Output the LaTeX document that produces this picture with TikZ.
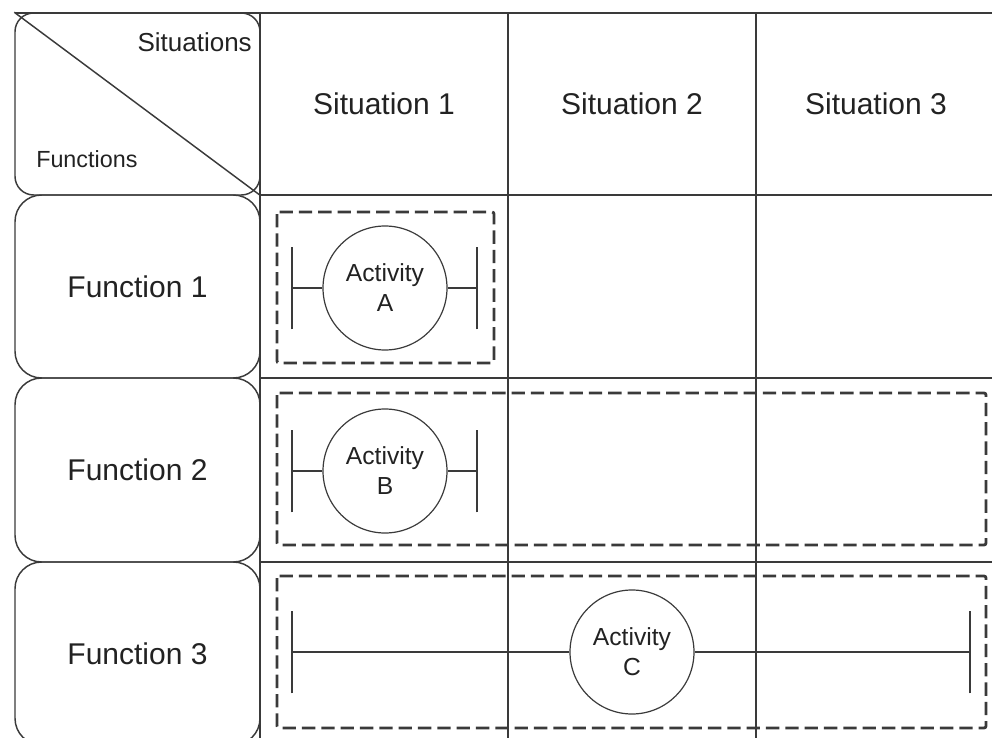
\documentclass[tikz,border=0pt]{standalone}
\usepackage{fontspec}
\setmainfont{Liberation Sans}
\definecolor{linegray}{HTML}{3A3A3A}
\definecolor{textgray}{HTML}{222222}
\begin{document}
\begin{tikzpicture}[x=0.75pt,y=-0.75pt,
  gridline/.style={draw=linegray, line width=1.1pt},
  rowbox/.style={draw=linegray, line width=1.1pt, rounded corners=20pt,
    minimum width=183.75pt, inner sep=0pt, text=textgray,
    font=\fontsize{22.5}{27}\selectfont},
  headtext/.style={text=textgray, inner sep=0pt, font=\fontsize{22.5}{27}\selectfont},
  cornertext/.style={text=textgray, inner sep=0pt},
  activity/.style={circle, draw=linegray, line width=0.9pt, minimum size=93pt,
    inner sep=0pt, align=center, text=textgray,
    font=\fontsize{18.5}{22.5}\selectfont},
  spanline/.style={draw=linegray, line width=0.9pt},
  dashbox/.style={draw=linegray, line width=2.1pt, dash pattern=on 10pt off 4.5pt,
    rounded corners=1.5pt}
]
\clip (0,0) rectangle (992,738);

% left column: header cell and function rows
\node[rowbox, rounded corners=14pt, minimum height=136.5pt] (hdr) at (137.5,104) {};
\draw[gridline] (hdr.north west) -- (hdr.south east);
\node[cornertext, anchor=base east, font=\fontsize{19.5}{23}\selectfont] (sit) at (252,52) {Situations};
\node[cornertext, anchor=base west, font=\fontsize{17.5}{21}\selectfont] (fun) at (36,168) {Functions};

\node[rowbox, minimum height=137.25pt] (f1) at (137.5,286.5) {Function 1};
\node[rowbox, minimum height=138pt] (f2) at (137.5,470) {Function 2};
\node[rowbox, minimum height=137.25pt] (f3) at (137.5,653.5) {Function 3};

% table grid
\draw[gridline] (15,13) -- (992,13);
\draw[gridline] (260,13) -- (260,738);
\draw[gridline] (508,13) -- (508,738);
\draw[gridline] (756,13) -- (756,738);
\draw[gridline] (260,195) -- (992,195);
\draw[gridline] (260,378) -- (992,378);
\draw[gridline] (260,562) -- (992,562);

% column headings
\node[headtext] (s1) at (384,104) {Situation 1};
\node[headtext] (s2) at (632,104) {Situation 2};
\node[headtext] (s3) at (876,104) {Situation 3};

% activity scopes
\draw[dashbox] (277,212) rectangle (494,363);
\draw[dashbox] (277,393) rectangle (986,545);
\draw[dashbox] (277,576) rectangle (986,728);

% activities with their start and end bars
\node[activity] (actA) at (385,288) {Activity\\A};
\coordinate (aL) at (292,288);
\coordinate (aR) at (477,288);
\draw[spanline] (aL) -- (actA.west);
\draw[spanline] (actA.east) -- (aR);
\draw[spanline] ([yshift=-31]aL) -- ([yshift=31]aL);
\draw[spanline] ([yshift=-31]aR) -- ([yshift=31]aR);

\node[activity] (actB) at (385,471) {Activity\\B};
\coordinate (bL) at (292,471);
\coordinate (bR) at (477,471);
\draw[spanline] (bL) -- (actB.west);
\draw[spanline] (actB.east) -- (bR);
\draw[spanline] ([yshift=-31]bL) -- ([yshift=31]bL);
\draw[spanline] ([yshift=-31]bR) -- ([yshift=31]bR);

\node[activity] (actC) at (632,652) {Activity\\C};
\coordinate (cL) at (292,652);
\coordinate (cR) at (970,652);
\draw[spanline] (cL) -- (actC.west);
\draw[spanline] (actC.east) -- (cR);
\draw[spanline] ([yshift=-31]cL) -- ([yshift=31]cL);
\draw[spanline] ([yshift=-31]cR) -- ([yshift=31]cR);
\end{tikzpicture}
\end{document}
